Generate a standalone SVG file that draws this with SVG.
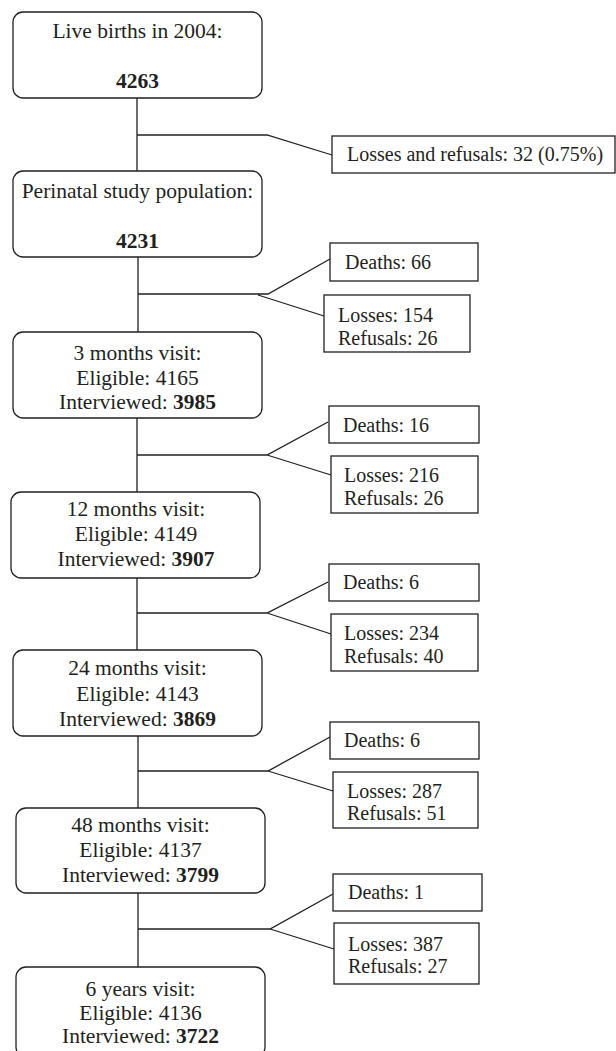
<svg xmlns="http://www.w3.org/2000/svg" width="616" height="1051" viewBox="0 0 616 1051">
<style>
.n{fill:#fff;stroke:#231f20;stroke-width:1.3}
.c{fill:none;stroke:#231f20;stroke-width:1.3}
.t{font-family:"Liberation Serif","Times New Roman",serif;font-size:21.5px;fill:#231f20;text-anchor:middle}
.s{font-family:"Liberation Serif","Times New Roman",serif;font-size:20px;fill:#231f20}
.b{font-weight:bold}
</style>
<rect width="616" height="1051" fill="#fff"/>
<g id="connectors">
<path class="c" d="M137 98V172M137 135H267L332 155"/>
<path class="c" d="M138 257V332M138 294H268L330 259M258 295L324 316"/>
<path class="c" d="M137 418V492M137 455H267L328 422M267 455L331 475"/>
<path class="c" d="M137 578V650M137 613H267L328 582M267 613L331 634"/>
<path class="c" d="M138 736V808M138 771H268L330 737M268 771L333 791"/>
<path class="c" d="M138 893V967M138 929H270L333 894M270 929L334 949"/>
</g>
<g id="n1"><rect class="n" x="13" y="12" width="249" height="86" rx="10"/>
<text class="t" x="137.5" y="38">Live births in 2004:</text>
<text class="t b" x="137.5" y="88">4263</text></g>
<g id="n2"><rect class="n" x="13" y="171" width="249" height="86" rx="10"/>
<text class="t" x="137.5" y="198">Perinatal study population:</text>
<text class="t b" x="137.5" y="248">4231</text></g>
<g id="n3"><rect class="n" x="13" y="332" width="249" height="86" rx="10"/>
<text class="t" x="137.5" y="360">3 months visit:</text>
<text class="t" x="137.5" y="385">Eligible: 4165</text>
<text class="t" x="137.5" y="409">Interviewed: <tspan class="b">3985</tspan></text></g>
<g id="n4"><rect class="n" x="11" y="492" width="249" height="86" rx="10"/>
<text class="t" x="136" y="516">12 months visit:</text>
<text class="t" x="136" y="541">Eligible: 4149</text>
<text class="t" x="136" y="566">Interviewed: <tspan class="b">3907</tspan></text></g>
<g id="n5"><rect class="n" x="13" y="650" width="249" height="86" rx="10"/>
<text class="t" x="137.5" y="675">24 months visit:</text>
<text class="t" x="137.5" y="701">Eligible: 4143</text>
<text class="t" x="137.5" y="726">Interviewed: <tspan class="b">3869</tspan></text></g>
<g id="n6"><rect class="n" x="16" y="808" width="249" height="85" rx="10"/>
<text class="t" x="140.5" y="832">48 months visit:</text>
<text class="t" x="140.5" y="857">Eligible: 4137</text>
<text class="t" x="140.5" y="882">Interviewed: <tspan class="b">3799</tspan></text></g>
<g id="n7"><rect class="n" x="16" y="967" width="249" height="90" rx="10"/>
<text class="t" x="140.5" y="996">6 years visit:</text>
<text class="t" x="140.5" y="1020">Eligible: 4136</text>
<text class="t" x="140.5" y="1043">Interviewed: <tspan class="b">3722</tspan></text></g>
<g id="s1"><rect class="n" x="332" y="136" width="283" height="37"/>
<text class="s" x="347" y="161">Losses and refusals: 32 (0.75%)</text></g>
<g id="d2"><rect class="n" x="330" y="243" width="148" height="38"/>
<text class="s" x="345" y="269">Deaths: 66</text></g>
<g id="l2"><rect class="n" x="324" y="295" width="146" height="57"/>
<text class="s" x="338" y="322">Losses: 154</text>
<text class="s" x="338" y="345">Refusals: 26</text></g>
<g id="d3"><rect class="n" x="329" y="406" width="150" height="37"/>
<text class="s" x="343" y="432">Deaths: 16</text></g>
<g id="l3"><rect class="n" x="331" y="456" width="147" height="57"/>
<text class="s" x="344" y="482">Losses: 216</text>
<text class="s" x="344" y="505">Refusals: 26</text></g>
<g id="d4"><rect class="n" x="329" y="564" width="150" height="37"/>
<text class="s" x="343" y="589">Deaths: 6</text></g>
<g id="l4"><rect class="n" x="331" y="614" width="147" height="57"/>
<text class="s" x="344" y="640">Losses: 234</text>
<text class="s" x="344" y="663">Refusals: 40</text></g>
<g id="d5"><rect class="n" x="330" y="722" width="149" height="37"/>
<text class="s" x="344" y="747">Deaths: 6</text></g>
<g id="l5"><rect class="n" x="333" y="772" width="145" height="56"/>
<text class="s" x="347" y="798">Losses: 287</text>
<text class="s" x="347" y="820">Refusals: 51</text></g>
<g id="d6"><rect class="n" x="333" y="874" width="149" height="37"/>
<text class="s" x="348" y="899">Deaths: 1</text></g>
<g id="l6"><rect class="n" x="334" y="923" width="145" height="61"/>
<text class="s" x="348" y="951">Losses: 387</text>
<text class="s" x="348" y="973">Refusals: 27</text></g>
</svg>
